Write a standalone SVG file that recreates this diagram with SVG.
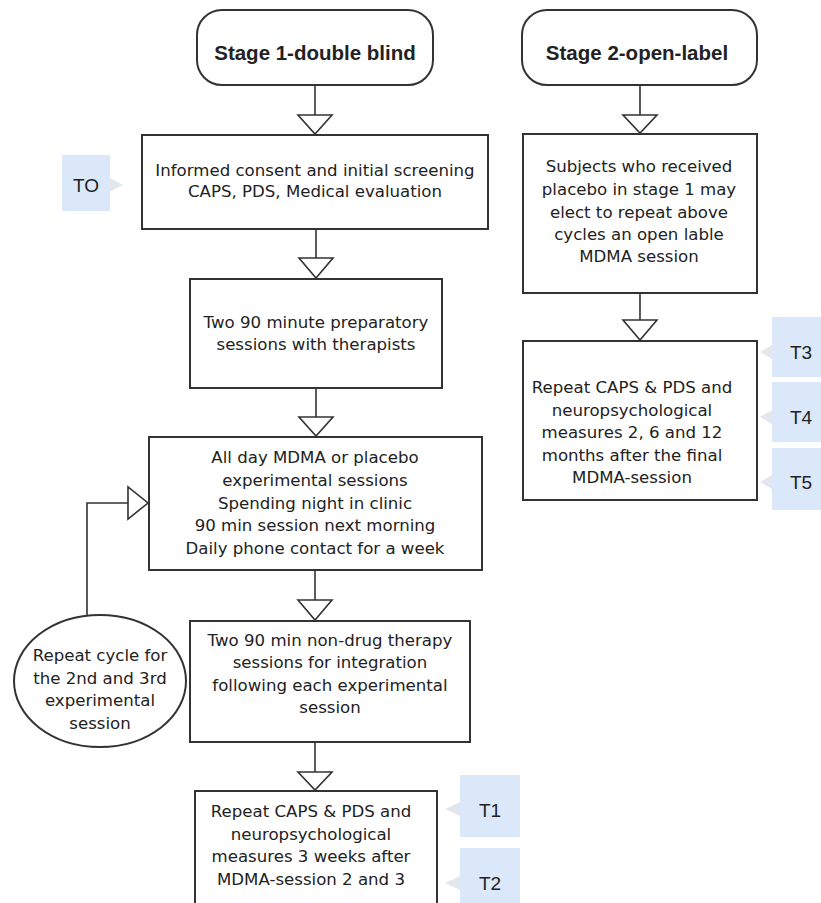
<svg xmlns="http://www.w3.org/2000/svg" width="821" height="903" viewBox="0 0 821 903">
<style>
.box{fill:#fff;stroke:#333;stroke-width:2}
.ln{fill:none;stroke:#333;stroke-width:1.6}
.ah{fill:#fff;stroke:#333;stroke-width:1.6;stroke-linejoin:miter}
.t{font-family:"DejaVu Sans",sans-serif;font-size:16.6px;fill:#222;text-anchor:middle}
.h{font-family:"Liberation Sans",Arial,sans-serif;font-size:20.5px;font-weight:bold;fill:#222;text-anchor:middle}
.tag{fill:#dae8fa}
.ptr{fill:#e2e7ee}
.tt{font-family:"Liberation Sans",Arial,sans-serif;font-size:19px;fill:#222;text-anchor:middle}
</style>
<rect width="821" height="903" fill="#fff"/>
<g id="connectors">
<line class="ln" x1="315" y1="85" x2="315" y2="115"/>
<polygon class="ah" points="298,115 332,115 315,134"/>
<line class="ln" x1="316" y1="229" x2="316" y2="258"/>
<polygon class="ah" points="299,258 333,258 316,278"/>
<line class="ln" x1="316" y1="388" x2="316" y2="417"/>
<polygon class="ah" points="299,417 333,417 316,436"/>
<line class="ln" x1="315" y1="570" x2="315" y2="600"/>
<polygon class="ah" points="298,600 332,600 315,620"/>
<line class="ln" x1="315" y1="742" x2="315" y2="772"/>
<polygon class="ah" points="298,772 332,772 315,790"/>
<polyline class="ln" points="87,615 87,503 128,503"/>
<polygon class="ah" points="128,487 128,519 148,503"/>
<line class="ln" x1="640" y1="85" x2="640" y2="115"/>
<polygon class="ah" points="623,115 657,115 640,133"/>
<line class="ln" x1="640" y1="293" x2="640" y2="320"/>
<polygon class="ah" points="623,320 657,320 640,340"/>
</g>
<g id="stage1">
<rect class="box" x="197" y="10" width="236" height="75" rx="25"/>
<text class="h" x="315" y="60">Stage 1-double blind</text>
</g>
<g id="stage2">
<rect class="box" x="522" y="10" width="235" height="75" rx="25"/>
<text class="h" x="637" y="60">Stage 2-open-label</text>
</g>
<g id="consent">
<rect class="box" x="142" y="135" width="346" height="94"/>
<text class="t" x="315" y="176">Informed consent and initial screening</text>
<text class="t" x="315" y="197">CAPS, PDS, Medical evaluation</text>
</g>
<g id="prep">
<rect class="box" x="190" y="279" width="252" height="109"/>
<text class="t" x="316" y="328">Two 90 minute preparatory</text>
<text class="t" x="316" y="350">sessions with therapists</text>
</g>
<g id="session">
<rect class="box" x="149" y="437" width="333" height="133"/>
<text class="t" x="315" y="463">All day MDMA or placebo</text>
<text class="t" x="315" y="486">experimental sessions</text>
<text class="t" x="315" y="509">Spending night in clinic</text>
<text class="t" x="315" y="531">90 min session next morning</text>
<text class="t" x="315" y="554">Daily phone contact for a week</text>
</g>
<g id="repeat-cycle">
<ellipse class="box" cx="100" cy="681" rx="86" ry="66"/>
<text class="t" x="100" y="661">Repeat cycle for</text>
<text class="t" x="100" y="684">the 2nd and 3rd</text>
<text class="t" x="100" y="706">experimental</text>
<text class="t" x="100" y="729">session</text>
</g>
<g id="integration">
<rect class="box" x="190" y="621" width="280" height="121"/>
<text class="t" x="330" y="646">Two 90 min non-drug therapy</text>
<text class="t" x="330" y="668">sessions for integration</text>
<text class="t" x="330" y="691">following each experimental</text>
<text class="t" x="330" y="713">session</text>
</g>
<g id="followup1">
<rect class="box" x="195" y="791" width="242" height="120"/>
<text class="t" x="311" y="817">Repeat CAPS &amp; PDS and</text>
<text class="t" x="311" y="840">neuropsychological</text>
<text class="t" x="311" y="862">measures 3 weeks after</text>
<text class="t" x="311" y="885">MDMA-session 2 and 3</text>
</g>
<g id="openlabel">
<rect class="box" x="523" y="134" width="234" height="159"/>
<text class="t" x="639" y="172">Subjects who received</text>
<text class="t" x="639" y="195">placebo in stage 1 may</text>
<text class="t" x="639" y="218">elect to repeat above</text>
<text class="t" x="639" y="240">cycles an open lable</text>
<text class="t" x="639" y="262">MDMA session</text>
</g>
<g id="followup2">
<rect class="box" x="523" y="341" width="234" height="159"/>
<text class="t" x="632" y="393">Repeat CAPS &amp; PDS and</text>
<text class="t" x="632" y="416">neuropsychological</text>
<text class="t" x="632" y="438">measures 2, 6 and 12</text>
<text class="t" x="632" y="461">months after the final</text>
<text class="t" x="632" y="483">MDMA-session</text>
</g>
<g id="T0">
<rect class="tag" x="62" y="155" width="48" height="56"/>
<polygon class="ptr" points="110,178 123,185 110,192"/>
<text class="tt" x="86" y="192">TO</text>
</g>
<g id="T1">
<rect class="tag" x="460" y="775" width="60" height="62"/>
<polygon class="ptr" points="460,802 445,809 460,816"/>
<text class="tt" x="490" y="817">T1</text>
</g>
<g id="T2">
<rect class="tag" x="460" y="848" width="60" height="62"/>
<polygon class="ptr" points="460,876 445,883 460,890"/>
<text class="tt" x="490" y="890">T2</text>
</g>
<g id="T3">
<rect class="tag" x="772" y="317" width="60" height="60"/>
<polygon class="ptr" points="772,345 760,352 772,359"/>
<text class="tt" x="801" y="359">T3</text>
</g>
<g id="T4">
<rect class="tag" x="772" y="382" width="60" height="60"/>
<polygon class="ptr" points="772,410 760,417 772,424"/>
<text class="tt" x="801" y="424">T4</text>
</g>
<g id="T5">
<rect class="tag" x="772" y="448" width="60" height="62"/>
<polygon class="ptr" points="772,475 760,482 772,489"/>
<text class="tt" x="801" y="489">T5</text>
</g>
</svg>
